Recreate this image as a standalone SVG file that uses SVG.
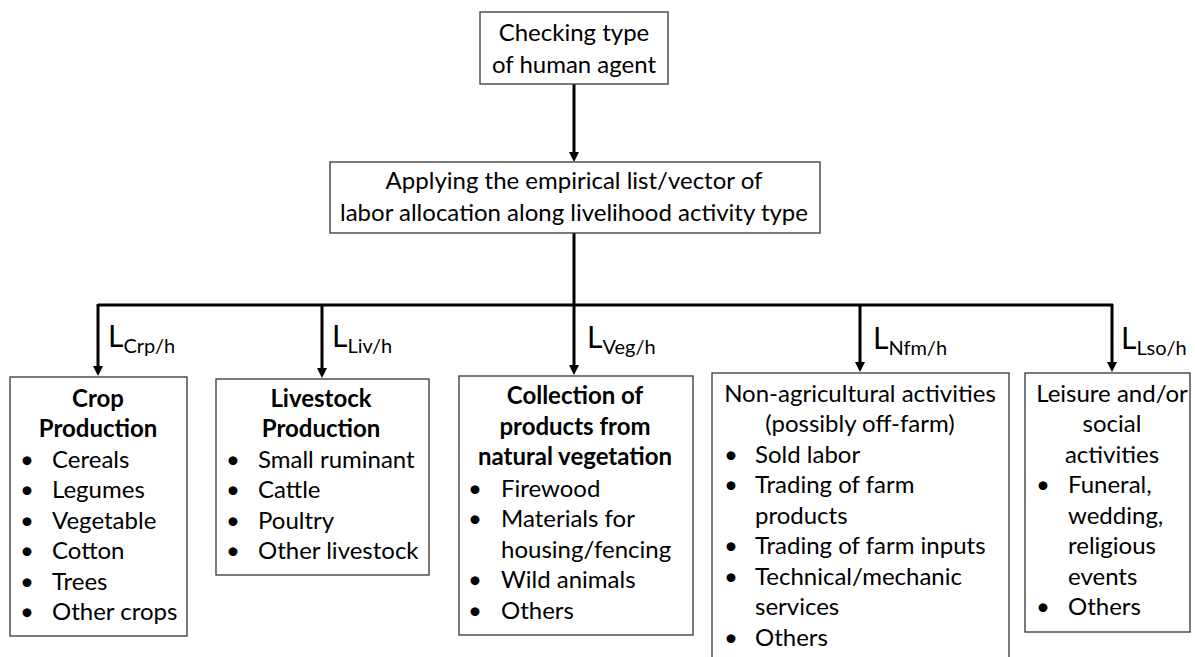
<svg xmlns="http://www.w3.org/2000/svg" width="1195" height="657" viewBox="0 0 1195 657">
<style>
.box{fill:#fff;stroke:#444;stroke-width:1.4}
text{font-family:Lato,"Liberation Sans",sans-serif;font-size:24px;fill:#000}
.c{text-anchor:middle}
.b{font-weight:bold}
.con{stroke:#000;stroke-width:3;fill:none}
.L{font-size:30px}
.s{font-size:20px}
</style>
<g id="connectors">
<path class="con" d="M574,84 V153"/>
<path d="M569,152 L579,152 L574,162 Z"/>
<path class="con" d="M574,233 V305"/>
<path class="con" d="M98,305 H1113"/>
<path class="con" d="M98,304 V367"/>
<path d="M93,366 L103,366 L98,376 Z"/>
<path class="con" d="M322,304 V369"/>
<path d="M317,368 L327,368 L322,378 Z"/>
<path class="con" d="M574,304 V366"/>
<path d="M569,365 L579,365 L574,375 Z"/>
<path class="con" d="M860,304 V363"/>
<path d="M855,362 L865,362 L860,372 Z"/>
<path class="con" d="M1112,304 V363"/>
<path d="M1107,362 L1117,362 L1112,372 Z"/>
<text x="108" y="347" class="L">L<tspan class="s" dy="6">Crp/h</tspan></text>
<text x="332" y="347" class="L">L<tspan class="s" dy="6">Liv/h</tspan></text>
<text x="587" y="348" class="L">L<tspan class="s" dy="6">Veg/h</tspan></text>
<text x="873" y="349" class="L">L<tspan class="s" dy="6">Nfm/h</tspan></text>
<text x="1121" y="349" class="L">L<tspan class="s" dy="6">Lso/h</tspan></text>
</g>
<g id="n_check">
<rect class="box" x="480" y="12" width="188" height="72"/>
<text x="574" y="41" class="c">Checking type</text>
<text x="574" y="73" class="c">of human agent</text>
</g>
<g id="n_apply">
<rect class="box" x="330" y="162" width="490" height="71"/>
<text x="574" y="189" class="c">Applying the empirical list/vector of</text>
<text x="574" y="221" class="c">labor allocation along livelihood activity type</text>
</g>
<g id="n_crop">
<rect class="box" x="10" y="377" width="177" height="259"/>
<text x="98" y="407" class="c b">Crop</text>
<text x="98" y="437" class="c b">Production</text>
<text x="20" y="468">•</text><text x="52" y="468">Cereals</text>
<text x="20" y="498">•</text><text x="52" y="498">Legumes</text>
<text x="20" y="529">•</text><text x="52" y="529">Vegetable</text>
<text x="20" y="559">•</text><text x="52" y="559">Cotton</text>
<text x="20" y="590">•</text><text x="52" y="590">Trees</text>
<text x="20" y="620">•</text><text x="52" y="620">Other crops</text>
</g>
<g id="n_livestock">
<rect class="box" x="216" y="379" width="213" height="196"/>
<text x="321" y="407" class="c b">Livestock</text>
<text x="321" y="437" class="c b">Production</text>
<text x="226" y="468">•</text><text x="258" y="468">Small ruminant</text>
<text x="226" y="498">•</text><text x="258" y="498">Cattle</text>
<text x="226" y="529">•</text><text x="258" y="529">Poultry</text>
<text x="226" y="559">•</text><text x="258" y="559">Other livestock</text>
</g>
<g id="n_vegetation">
<rect class="box" x="459" y="376" width="234" height="259"/>
<text x="575" y="404" class="c b">Collection of</text>
<text x="575" y="435" class="c b">products from</text>
<text x="575" y="465" class="c b">natural vegetation</text>
<text x="468" y="497">•</text><text x="501" y="497">Firewood</text>
<text x="468" y="527">•</text><text x="501" y="527">Materials for</text>
<text x="501" y="558">housing/fencing</text>
<text x="468" y="588">•</text><text x="501" y="588">Wild animals</text>
<text x="468" y="619">•</text><text x="501" y="619">Others</text>
</g>
<g id="n_nonagri">
<rect class="box" x="712" y="373" width="297" height="300"/>
<text x="860" y="402" class="c">Non-agricultural activities</text>
<text x="860" y="432" class="c">(possibly off-farm)</text>
<text x="724" y="463">•</text><text x="755" y="463">Sold labor</text>
<text x="724" y="493">•</text><text x="755" y="493">Trading of farm</text>
<text x="755" y="524">products</text>
<text x="724" y="554">•</text><text x="755" y="554">Trading of farm inputs</text>
<text x="724" y="585">•</text><text x="755" y="585">Technical/mechanic</text>
<text x="755" y="615">services</text>
<text x="724" y="646">•</text><text x="755" y="646">Others</text>
</g>
<g id="n_leisure">
<rect class="box" x="1025" y="373" width="165" height="259"/>
<text x="1112" y="402" class="c">Leisure and/or</text>
<text x="1112" y="432" class="c">social</text>
<text x="1112" y="463" class="c">activities</text>
<text x="1036" y="493">•</text><text x="1068" y="493">Funeral,</text>
<text x="1068" y="524">wedding,</text>
<text x="1068" y="554">religious</text>
<text x="1068" y="585">events</text>
<text x="1036" y="615">•</text><text x="1068" y="615">Others</text>
</g>
</svg>
